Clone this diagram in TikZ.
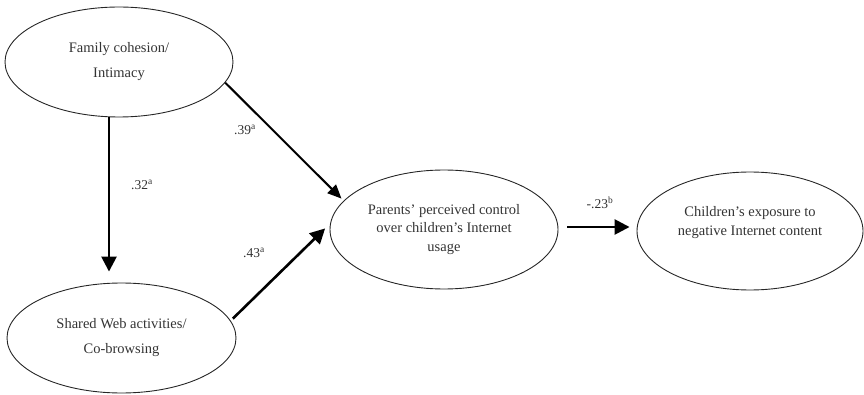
\documentclass[tikz,border=0pt]{standalone}
\usepackage{fontspec}
\setmainfont{Liberation Serif}
\usetikzlibrary{shapes.geometric,arrows.meta}

\tikzset{
  construct/.style={ellipse, draw=black!85, line width=0.9pt, inner sep=0pt,
    align=center, font=\fontsize{14.5}{25}\selectfont, text=black!80},
  path/.style={line width=2.6pt, -{Triangle[length=15pt,width=15pt]}},
  thinpath/.style={line width=2pt, -{Triangle[length=14pt,width=12pt]}},
  coef/.style={font=\fontsize{13.5}{15}\selectfont, text=black!80, inner sep=1pt}
}

\begin{document}
\begin{tikzpicture}[x=1pt,y=-1pt]
  \useasboundingbox (0,0) rectangle (864,395);

  % latent constructs
  \node[construct, minimum width=228pt, minimum height=110pt] (fam) at (119,62)
    {Family cohesion/\\Intimacy};
  \node[construct, minimum width=229pt, minimum height=110pt] (web) at (121.5,338)
    {Shared Web activities/\\Co-browsing};
  \node[construct, minimum width=228pt, minimum height=119pt, font=\fontsize{14.5}{18.5}\selectfont] (par) at (444,229.5)
    {Parents' perceived control\\over children's Internet\\usage};
  \node[construct, minimum width=226pt, minimum height=118pt,
        label={[name=chitext, align=center, font=\fontsize{14.5}{19}\selectfont,
                text=black!80, yshift=8pt]center:Children's exposure to\\negative Internet content}]
    (chi) at (750,231) {};

  % level of the outcome path
  \coordinate (lvl) at (0,227);

  % structural paths
  \draw[path] ([xshift=-10pt]fam.south) -- ([xshift=-12.5pt, yshift=11pt]web.north);
  \draw[thinpath, shorten >=3pt] (fam.-11) -- (par.164);
  \draw[path, shorten <=3pt, shorten >=7pt] (web.9) -- (par.177);
  \draw[path, shorten <=9pt, shorten >=7pt] (par.east |- lvl) -- (chi.west |- lvl);

  % path coefficients
  \node[coef] (c32) at (142,185) {.32\textsuperscript{a}};
  \node[coef] (c39) at (245,130) {.39\textsuperscript{a}};
  \node[coef] (c43) at (254,253) {.43\textsuperscript{a}};
  \node[coef] (c23) at (600,203) {-.23\textsuperscript{b}};
\end{tikzpicture}
\end{document}
